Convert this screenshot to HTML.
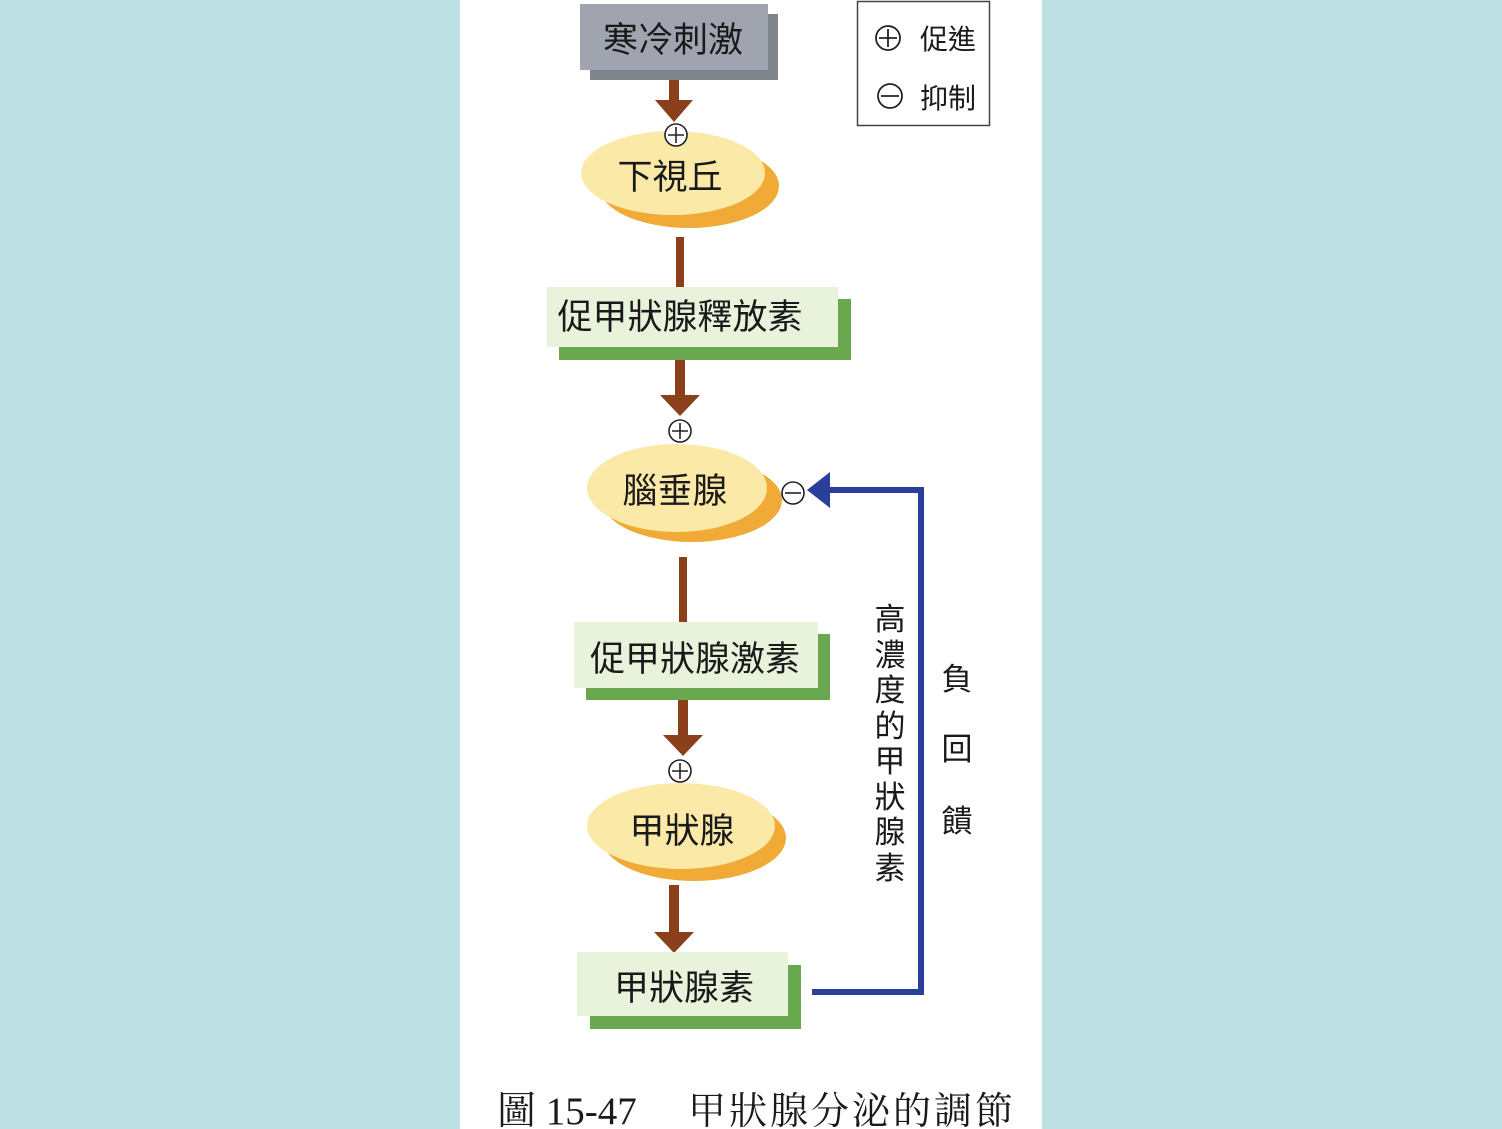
<!DOCTYPE html>
<html><head><meta charset="utf-8"><style>
html,body{margin:0;padding:0;background:#bde0e3;}
svg{display:block;}
text{font-family:"Liberation Sans","Noto Sans CJK TC",sans-serif;fill:#1a1a1a;}
</style></head><body>
<svg width="1502" height="1129" viewBox="0 0 1502 1129" xmlns="http://www.w3.org/2000/svg">
<rect x="0" y="0" width="1502" height="1129" fill="#bde0e3"/>
<rect x="460" y="0" width="582" height="1129" fill="#ffffff"/>

<rect x="590" y="14" width="188" height="66" fill="#80858c"/>
<rect x="580" y="4" width="188" height="66" fill="#9fa4ae"/>
<text x="673" y="52" font-size="35" text-anchor="middle">寒冷刺激</text>

<rect x="857.5" y="1.5" width="132" height="124" fill="#fff" stroke="#444" stroke-width="1.5"/>
<circle cx="888" cy="38" r="12" fill="#fff" stroke="#222" stroke-width="1.8"/>
<path d="M879 38h18M888 29v18" stroke="#222" stroke-width="1.8"/>
<text x="920" y="49" font-size="28">促進</text>
<circle cx="890" cy="96" r="12" fill="#fff" stroke="#222" stroke-width="1.8"/>
<path d="M881 96h18" stroke="#222" stroke-width="1.8"/>
<text x="920" y="108" font-size="28">抑制</text>

<rect x="669" y="80" width="10" height="22" fill="#8b3f1b"/>
<polygon points="655,100 693,100 674,122" fill="#8b3f1b"/>

<ellipse cx="689" cy="186" rx="90" ry="42" fill="#f0aa35"/>
<ellipse cx="673" cy="173" rx="92" ry="42" fill="#fbe9a8"/>
<text x="670" y="189" font-size="35" text-anchor="middle">下視丘</text>
<circle cx="676" cy="135" r="11" fill="#fff" stroke="#222" stroke-width="1.6"/>
<path d="M668 135h16M676 127v16" stroke="#222" stroke-width="1.6"/>

<rect x="676" y="237" width="8" height="52" fill="#8b3f1b"/>

<rect x="559" y="299" width="292" height="61" fill="#6aa84f"/>
<rect x="547" y="287" width="291" height="60" fill="#e9f3dc"/>
<text x="680" y="329" font-size="35" text-anchor="middle">促甲狀腺釋放素</text>

<rect x="675" y="360" width="10" height="37" fill="#8b3f1b"/>
<polygon points="660,395 700,395 680,416" fill="#8b3f1b"/>

<ellipse cx="692" cy="500" rx="90" ry="42" fill="#f0aa35"/>
<ellipse cx="677" cy="488" rx="90" ry="44" fill="#fbe9a8"/>
<text x="675" y="503" font-size="35" text-anchor="middle">腦垂腺</text>
<circle cx="680" cy="431" r="11" fill="#fff" stroke="#222" stroke-width="1.6"/>
<path d="M672 431h16M680 423v16" stroke="#222" stroke-width="1.6"/>
<circle cx="793" cy="493" r="11" fill="#fff" stroke="#222" stroke-width="1.6"/>
<path d="M785 493h16" stroke="#222" stroke-width="1.6"/>

<polyline points="812,992 921,992 921,490 828,490" fill="none" stroke="#2a3f9a" stroke-width="6"/>
<polygon points="807,490 830,472 830,508" fill="#2a3f9a"/>

<rect x="679" y="557" width="8" height="66" fill="#8b3f1b"/>

<rect x="586" y="634" width="244" height="66" fill="#6aa84f"/>
<rect x="574" y="622" width="244" height="66" fill="#e9f3dc"/>
<text x="695" y="671" font-size="35" text-anchor="middle">促甲狀腺激素</text>

<rect x="678" y="700" width="10" height="37" fill="#8b3f1b"/>
<polygon points="663,735 703,735 683,756" fill="#8b3f1b"/>

<ellipse cx="694" cy="838" rx="92" ry="43" fill="#f0aa35"/>
<ellipse cx="681" cy="826" rx="94" ry="43" fill="#fbe9a8"/>
<text x="682" y="843" font-size="35" text-anchor="middle">甲狀腺</text>
<circle cx="680" cy="771" r="11" fill="#fff" stroke="#222" stroke-width="1.6"/>
<path d="M672 771h16M680 763v16" stroke="#222" stroke-width="1.6"/>

<rect x="669" y="885" width="10" height="49" fill="#8b3f1b"/>
<polygon points="654,932 694,932 674,953" fill="#8b3f1b"/>

<rect x="590" y="965" width="211" height="64" fill="#6aa84f"/>
<rect x="577" y="952" width="211" height="64" fill="#e9f3dc"/>
<text x="684" y="1000" font-size="35" text-anchor="middle">甲狀腺素</text>

<g font-size="31" text-anchor="middle">
<text x="890" y="630">高</text>
<text x="890" y="666">濃</text>
<text x="890" y="701">度</text>
<text x="890" y="737">的</text>
<text x="890" y="772">甲</text>
<text x="890" y="808">狀</text>
<text x="890" y="843">腺</text>
<text x="890" y="879">素</text>
<text x="957" y="690">負</text>
<text x="957" y="760">回</text>
<text x="957" y="832">饋</text>
</g>

<text x="497" y="1124" font-size="39" style="font-family:'Liberation Serif','Noto Serif CJK SC',serif">圖 15-47</text>
<text x="688" y="1124" font-size="38" style="font-family:'Liberation Serif','Noto Serif CJK SC',serif" letter-spacing="3">甲狀腺分泌的調節</text>
</svg>
</body></html>
